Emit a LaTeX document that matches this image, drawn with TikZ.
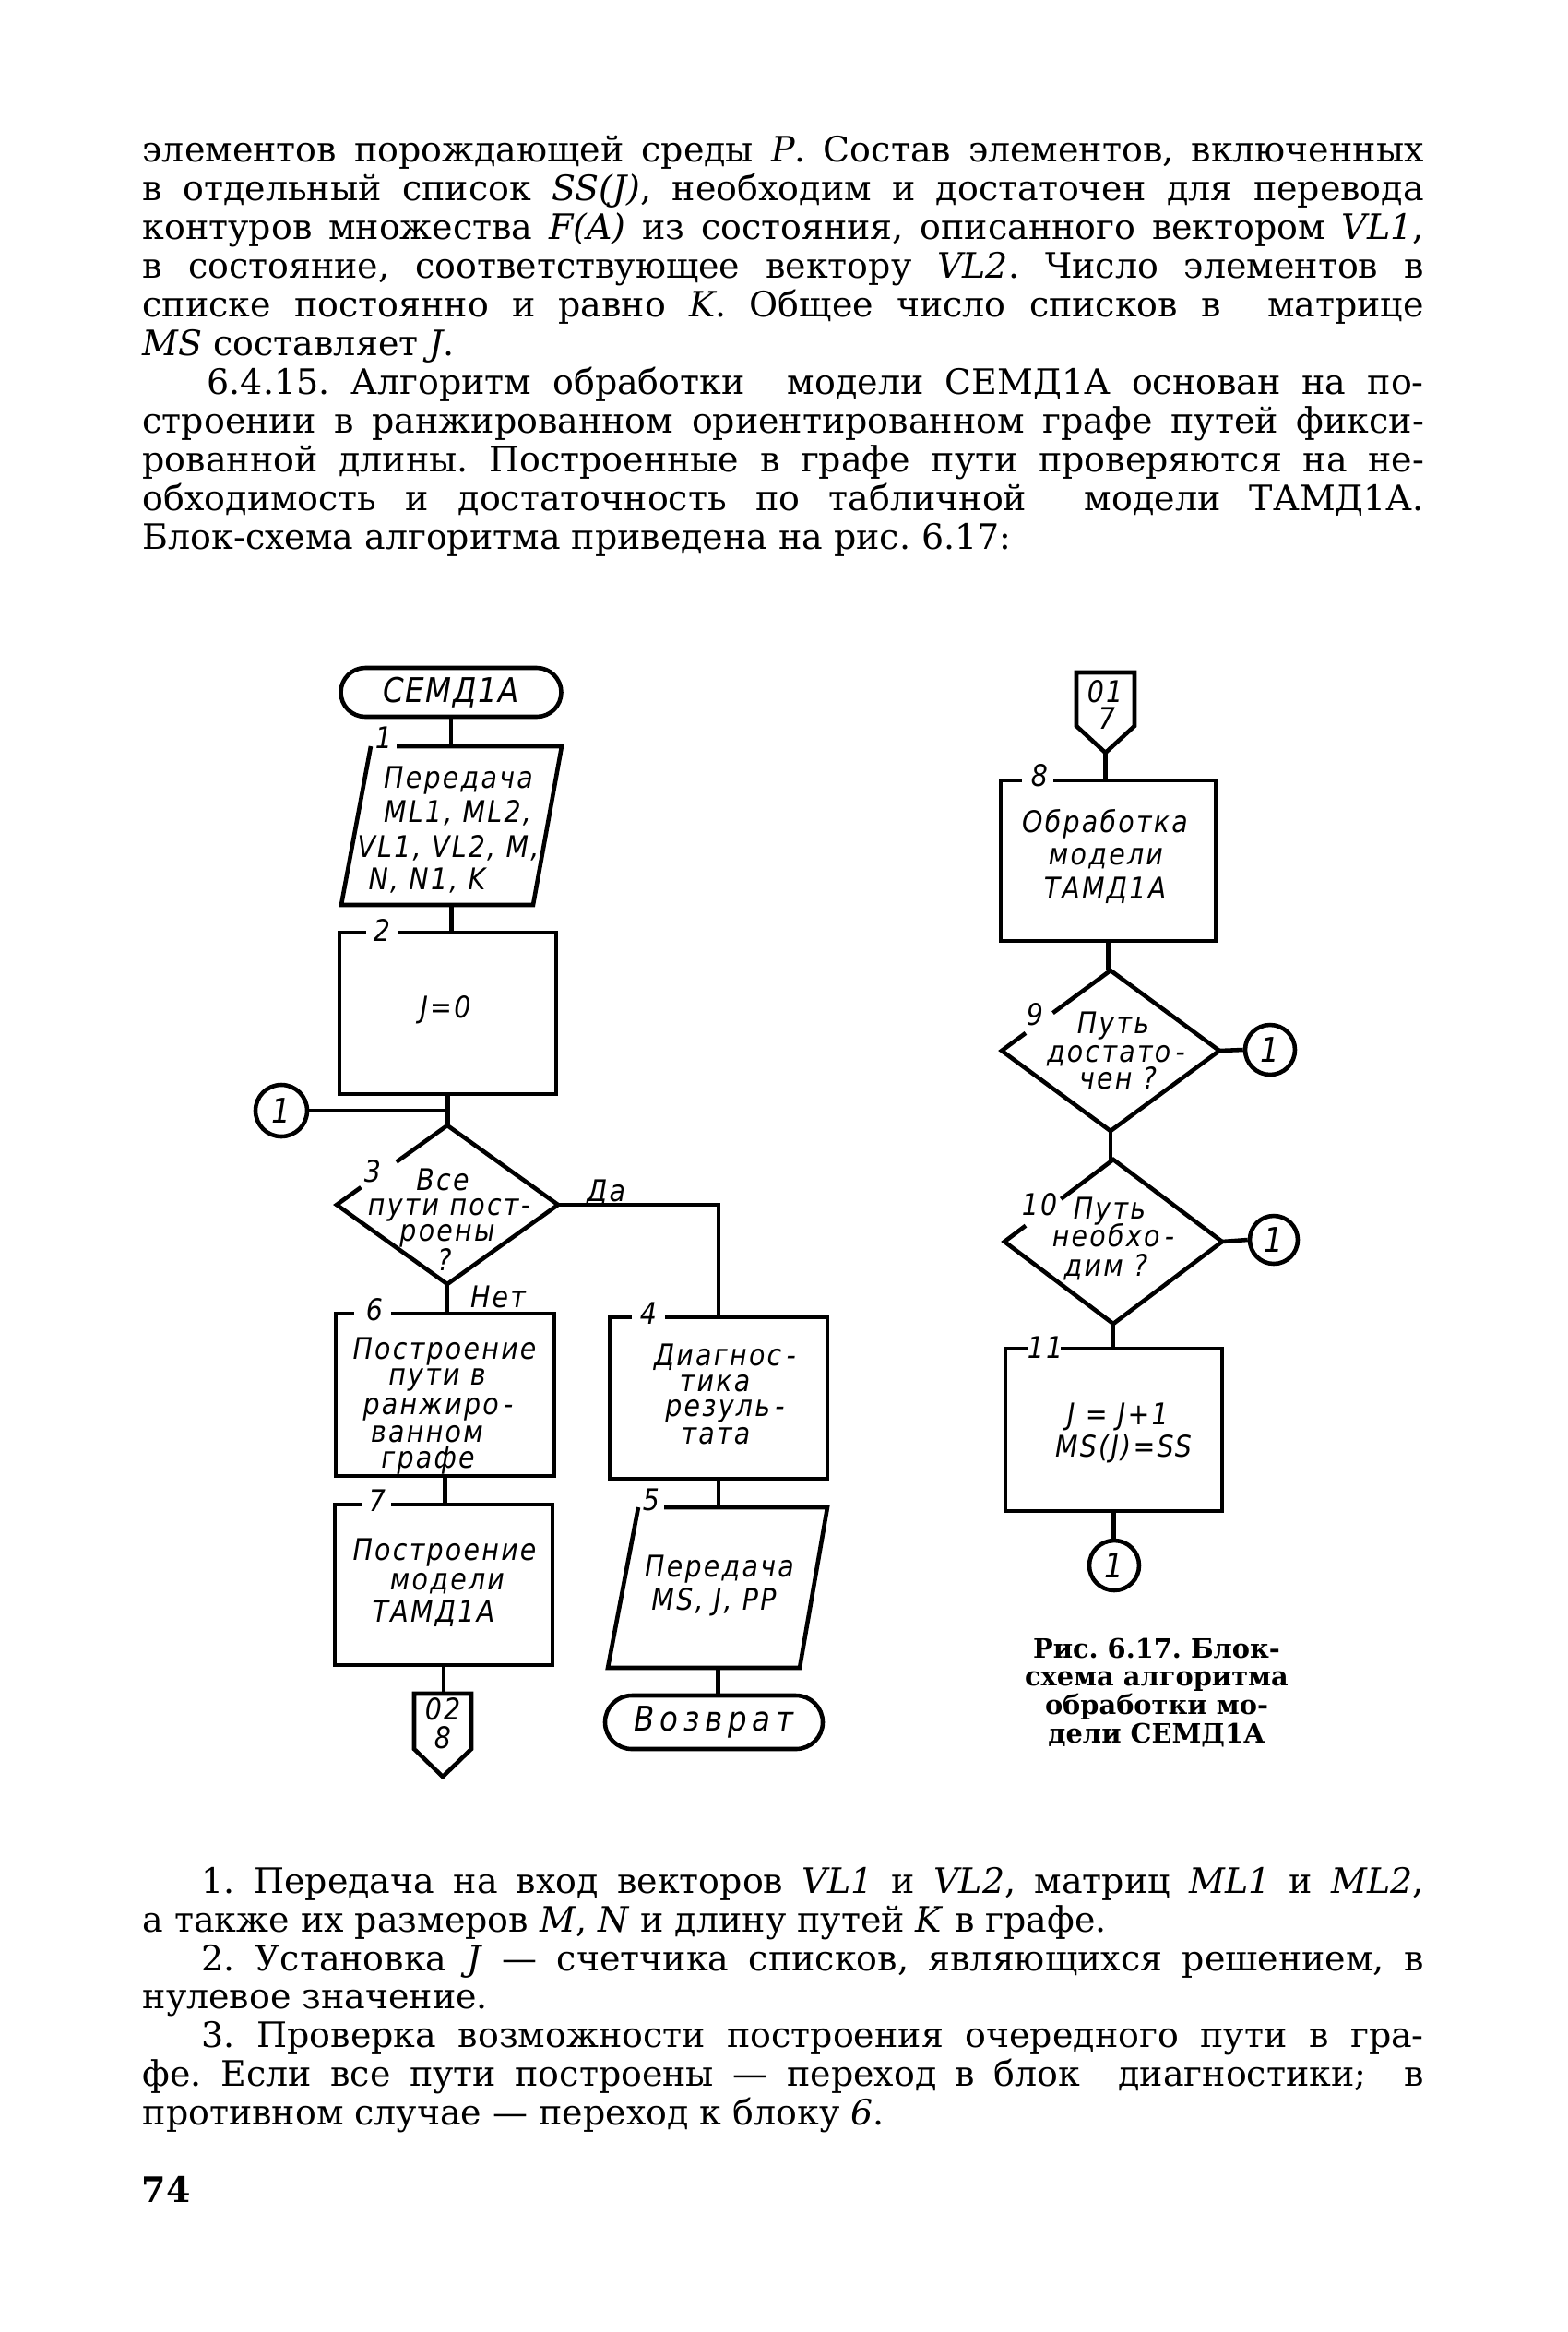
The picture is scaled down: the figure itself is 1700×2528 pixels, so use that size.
\documentclass[tikz,border=0pt]{standalone}
\usepackage{fontspec}
\setmainfont{DejaVu Serif}
\newfontfamily\drsans[FakeStretch=0.88, LetterSpace=7]{DejaVu Sans}
\newfontfamily\trsans[FakeStretch=0.88, LetterSpace=4]{DejaVu Sans}
\newfontfamily\wrsans[FakeStretch=0.88, LetterSpace=16]{DejaVu Sans}
\usetikzlibrary{calc}
\frenchspacing
\newcommand\bdfont{\fontsize{10.8pt}{13pt}\selectfont}
\newcommand\drfont{\drsans\itshape\fontsize{9.2pt}{10pt}\selectfont}
\newcommand\termfont{\trsans\itshape\fontsize{10.5pt}{11pt}\selectfont}
\newcommand\capfont{\bfseries\fontsize{8.2pt}{9pt}\selectfont}
\newlength\fullw \setlength\fullw{138.9mm}
\newlength\indwa \setlength\indwa{131.9mm}
\newlength\indwb \setlength\indwb{132.5mm}
\newcommand\jl[1]{\makebox[\fullw][s]{#1}}
\newcommand\ila[1]{\makebox[\indwa][s]{#1}}
\newcommand\ilb[1]{\makebox[\indwb][s]{#1}}
\begin{document}
\begin{tikzpicture}[x=0.1mm,y=-0.1mm,
  ln/.style={line width=1.3pt},
  bt/.style={anchor=base west, inner sep=0, font=\bdfont},
  dt/.style={inner sep=0, text height=2.35mm, text depth=0pt, font=\drfont},
  hold/.style={inner sep=0, outer sep=0, draw=none},
  term/.style={draw, ln, inner sep=0, font=\termfont},
  conn/.style={circle, draw, ln, inner sep=0, font=\termfont},
  capt/.style={anchor=base, inner sep=0, font=\capfont}]
\fill[white] (0,0) rectangle (1700,2528);
\useasboundingbox (0,0) rectangle (1700,2528);

% ---------- top text ----------
\node[bt] (l1) at (154,175) {\jl{элементов порождающей среды \textit{P}. Состав элементов, включенных}};
\node[bt] (l2) at (154,217) {\jl{в отдельный список \textit{SS(J)}, необходим и достаточен для перевода}};
\node[bt] (l3) at (154,259) {\jl{контуров множества \textit{F(A)} из состояния, описанного вектором \textit{VL1},}};
\node[bt] (l4) at (154,301) {\jl{в состояние, соответствующее вектору \textit{VL2}. Число элементов в}};
\node[bt] (l5) at (154,343) {\jl{списке постоянно и равно \textit{K}. Общее число списков в~ матрице}};
\node[bt] (l6) at (154,385) {\textit{MS} составляет \textit{J}.};
\node[bt] (l7) at (224,427) {\ila{6.4.15. Алгоритм обработки~ модели СЕМД1А основан на по-}};
\node[bt] (l8) at (154,469) {\jl{строении в ранжированном ориентированном графе путей фикси-}};
\node[bt] (l9) at (154,511) {\jl{рованной длины. Построенные в графе пути проверяются на не-}};
\node[bt] (l10) at (154,553) {\jl{обходимость и достаточность по табличной~ модели ТАМД1А.}};
\node[bt] (l11) at (154,595) {Блок-схема алгоритма приведена на рис. 6.17:};

% ---------- left column ----------
\node[term, minimum width=23.9mm, minimum height=5.3mm, rounded corners=2.65mm] (t0) at (489,750.5) {СЕМД1А};

\node[hold, minimum width=20.7mm, minimum height=17.2mm] (b1) at (489.75,895) {};
\draw[ln] (430,809) -- (609,809) -- (578,981) -- (370,981) -- (402,809);
\node[dt] (n1) at (416,800) {1};
\node[dt] (b1a) at (497,843) {Передача};
\node[dt] (b1b) at (496,880) {ML1, ML2,};
\node[dt] (b1c) at (486,918) {VL1, VL2, M,};
\node[dt] (b1d) at (463,953) {N, N1, K};

\node[hold, minimum width=23.5mm, minimum height=17.5mm] (b2) at (485.5,1098.5) {};
\draw[ln] ($(b2.north west)+(64,0)$) -| (b2.south east) -| (b2.north west) -- ++(29,0);
\node[dt] (n2) at (414,1009) {2};
\node[dt] (b2a) at (483,1092) {J=0};

\node[conn, minimum size=5.6mm] (c1) at (305,1204) {1};

\node[hold, minimum width=24mm, minimum height=17.2mm] (d3) at (485,1306) {};
\draw[ln] ($(d3.west)!0.54!(d3.north)$) -- (d3.north) -- (d3.east) -- (d3.south) -- (d3.west) -- ($(d3.west)!0.22!(d3.north)$);
\node[dt] (n3) at (404,1270) {3};
\node[dt] (d3a) at (480,1279) {Все};
\node[dt] (d3b) at (487,1306) {пути пост-};
\node[dt] (d3c) at (485,1334) {роены};
\node[dt] (d3d) at (482,1366) {?};
\node[dt] (yes) at (657,1291) {Да};
\node[dt] (no) at (540,1406) {Нет};

\node[hold, minimum width=23.7mm, minimum height=17.6mm] (b6) at (482.5,1512) {};
\draw[ln] ($(b6.north west)+(60,0)$) -| (b6.south east) -| (b6.north west) -- ++(20,0);
\node[dt] (n6) at (406,1420) {6};
\node[dt] (b6a) at (482,1462) {Построение};
\node[dt] (b6b) at (474,1490) {пути в};
\node[dt] (b6c) at (475,1522) {ранжиро\,-};
\node[dt] (b6d) at (463,1552) {ванном};
\node[dt] (b6e) at (464,1580) {графе};

\node[hold, minimum width=23.6mm, minimum height=17.4mm] (b7) at (481,1718) {};
\draw[ln] ($(b7.north west)+(61,0)$) -| (b7.south east) -| (b7.north west) -- ++(30,0);
\node[dt] (n7) at (409,1627) {7};
\node[dt] (b7a) at (482,1680) {Построение};
\node[dt] (b7b) at (485,1712) {модели};
\node[dt] (b7c) at (470,1747) {ТАМД1А};

\node[hold, minimum width=6.2mm, minimum height=9mm] (o2) at (480,1881) {};
\draw[ln] (o2.north west) -- (o2.north east) -- ++(0,60) -- (o2.south) -- ($(o2.north west)+(0,60)$) -- cycle;
\node[dt] (o2a) at (480,1853) {02};
\node[dt] (o2b) at (480,1884) {8};

\node[hold, minimum width=23.6mm, minimum height=17.5mm] (b4) at (779,1515.5) {};
\draw[ln] ($(b4.north west)+(60,0)$) -| (b4.south east) -| (b4.north west) -- ++(24,0);
\node[dt] (n4) at (703,1424) {4};
\node[dt] (b4a) at (786,1469) {Диагнос\,-};
\node[dt] (b4b) at (775,1497) {тика};
\node[dt] (b4c) at (786,1524) {резуль\,-};
\node[dt] (b4d) at (776,1554) {тата};

\node[hold, minimum width=20.5mm, minimum height=17.4mm] (b5) at (778.75,1721) {};
\draw[ln] (720,1634) -- (897,1634) -- (867,1808) -- (659,1808) -- (692,1634);
\node[dt] (n5) at (706,1626) {5};
\node[dt] (b5a) at (780,1698) {Передача};
\node[dt] (b5b) at (774,1734) {MS, J, PP};

\node[term, minimum width=23.6mm, minimum height=5.8mm, rounded corners=2.9mm,
      font={\wrsans\itshape\fontsize{10.5pt}{11pt}\selectfont}] (t9) at (774,1867) {Возврат};

% ---------- right column ----------
\node[hold, minimum width=6.3mm, minimum height=8.7mm] (o1) at (1198.5,772.5) {};
\draw[ln] (o1.north west) -- (o1.north east) -- ++(0,58) -- (o1.south) -- ($(o1.north west)+(0,58)$) -- cycle;
\node[dt] (o1a) at (1198,750) {01};
\node[dt] (o1b) at (1200,779) {7};

\node[hold, minimum width=23.3mm, minimum height=17.4mm] (b8) at (1201.5,933) {};
\draw[ln] ($(b8.north west)+(57,0)$) -| (b8.south east) -| (b8.north west) -- ++(23,0);
\node[dt] (n8) at (1127,841) {8};
\node[dt] (b8a) at (1198,891) {Обработка};
\node[dt] (b8b) at (1199,926) {модели};
\node[dt] (b8c) at (1198,963) {ТАМД1А};

\node[hold, minimum width=23.6mm, minimum height=17.4mm] (d9) at (1204,1139) {};
\draw[ln] ($(d9.west)!0.47!(d9.north)$) -- (d9.north) -- (d9.east) -- (d9.south) -- (d9.west) -- ($(d9.west)!0.22!(d9.north)$);
\node[dt] (n9) at (1122,1100) {9};
\node[dt] (d9a) at (1207,1109) {Путь};
\node[dt] (d9b) at (1210,1140) {достато\,-};
\node[dt] (d9c) at (1212,1169) {чен ?};
\node[conn, minimum size=5.4mm] (c9) at (1377,1138) {1};

\node[hold, minimum width=23.6mm, minimum height=17.8mm] (d10) at (1207,1346) {};
\draw[ln] ($(d10.west)!0.52!(d10.north)$) -- (d10.north) -- (d10.east) -- (d10.south) -- (d10.west) -- ($(d10.west)!0.195!(d10.north)$);
\node[dt] (n10) at (1127,1306) {10};
\node[dt] (d10a) at (1203,1310) {Путь};
\node[dt] (d10b) at (1207,1340) {необхо\,-};
\node[dt] (d10c) at (1199,1372) {дим ?};
\node[conn, minimum size=5.2mm] (c10) at (1381,1344) {1};

\node[hold, minimum width=23.5mm, minimum height=17.6mm] (b11) at (1207.5,1550) {};
\draw[ln] ($(b11.north west)+(60,0)$) -| (b11.south east) -| (b11.north west) -- ++(25,0);
\node[dt] (n11) at (1133,1461) {11};
\node[dt] (b11a) at (1212,1533) {J = J+1};
\node[dt] (b11b) at (1218,1568) {MS(J)=SS};

\node[conn, minimum size=5.4mm] (c11) at (1208,1697) {1};

% ---------- connectors ----------
\draw[ln] (t0.south) -- (t0.south |- b1.north);
\draw[ln] (b1.south) -- (b1.south |- b2.north);
\draw[ln] (b2.south) -- (b2.south |- d3.north);
\draw[ln] (c1.east) -- (c1.east -| b2.south);
\draw[ln] (d3.east) -| (b4.north);
\draw[ln] (d3.south) -- (d3.south |- b6.north);
\draw[ln] (b6.south) -- (b6.south |- b7.north);
\draw[ln] (b7.south) -- (b7.south |- o2.north);
\draw[ln] (b4.south) -- (b4.south |- b5.north);
\draw[ln] (b5.south) -- (b5.south |- t9.north);
\draw[ln] (o1.south) -- (o1.south |- b8.north);
\draw[ln] (b8.south) -- (b8.south |- d9.north);
\draw[ln] (d9.east) -- (c9.west);
\draw[ln] (d9.south) -- (d9.south |- d10.north);
\draw[ln] (d10.east) -- (c10.west);
\draw[ln] (d10.south) -- (d10.south |- b11.north);
\draw[ln] (b11.south) -- (b11.south |- c11.north);

% ---------- caption ----------
\node[capt] (cp1) at (1254,1797) {Рис. 6.17. Блок-};
\node[capt] (cp2) at (1254,1827) {схема алгоритма};
\node[capt] (cp3) at (1254,1858) {обработки мо-};
\node[capt] (cp4) at (1254,1889) {дели СЕМД1А};

% ---------- bottom text ----------
\node[bt] (m1) at (218,2052) {\ilb{1. Передача на вход векторов \textit{VL1} и \textit{VL2}, матриц \textit{ML1} и \textit{ML2},}};
\node[bt] (m2) at (154,2094) {а также их размеров \textit{M}, \textit{N} и длину путей \textit{K} в графе.};
\node[bt] (m3) at (218,2136) {\ilb{2. Установка \textit{J} — счетчика списков, являющихся решением, в}};
\node[bt] (m4) at (154,2177) {нулевое значение.};
\node[bt] (m5) at (218,2219) {\ilb{3. Проверка возможности построения очередного пути в гра-}};
\node[bt] (m6) at (154,2261) {\jl{фе. Если все пути построены — переход в блок~ диагностики;~ в}};
\node[bt] (m7) at (154,2303) {противном случае — переход к блоку \textit{6}.};
\node[bt, font=\bfseries\bdfont] (pg) at (153,2387) {74};
\end{tikzpicture}
\end{document}
